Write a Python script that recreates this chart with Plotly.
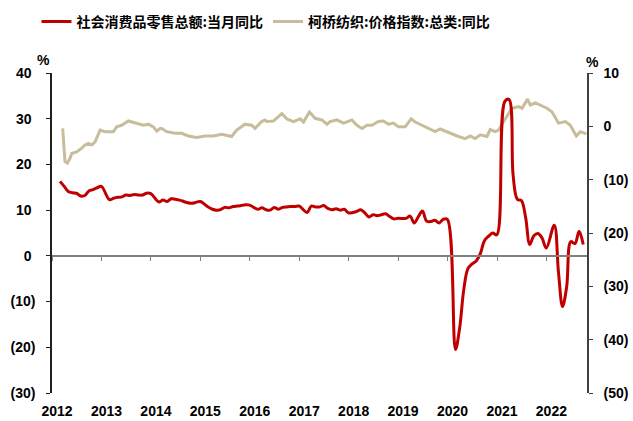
import plotly.graph_objects as go
import pandas as pd

# ---------------- data ----------------
# 社会消费品零售总额:当月同比 (monthly, Jan-Feb combined, %)
retail_2012 = [16.3, 15.2, 14.1, 13.8, 13.7, 13.1, 13.2, 14.2, 14.5, 14.9, 15.2]
retail_2013 = [12.3, 12.6, 12.8, 12.9, 13.3, 13.2, 13.4, 13.3, 13.3, 13.7, 13.6]
retail_2014 = [11.8, 12.2, 11.9, 12.5, 12.4, 12.2, 11.9, 11.6, 11.5, 11.7, 11.9]
retail_2015 = [10.7, 10.2, 10.0, 10.1, 10.6, 10.5, 10.8, 10.9, 11.0, 11.2, 11.1]
retail_2016 = [10.2, 10.5, 10.1, 10.0, 10.6, 10.2, 10.6, 10.7, 10.8, 10.8, 10.9]
retail_2017 = [9.5, 10.9, 10.7, 10.7, 11.0, 10.4, 10.1, 10.3, 10.0, 10.2, 9.4]
retail_2018 = [9.7, 10.1, 9.4, 8.5, 9.0, 8.8, 9.0, 9.2, 8.6, 8.1, 8.2]
retail_2019 = [8.2, 8.7, 7.2, 8.6, 9.8, 7.6, 7.5, 7.8, 7.2, 8.0, 8.0]
retail_2020 = [-20.5, -15.8, -7.5, -2.8, -1.8, -1.1, 0.5, 3.3, 4.3, 5.0, 4.6]
retail_2021 = [33.8, 34.2, 17.7, 12.4, 12.1, 8.5, 2.5, 4.4, 4.9, 3.9, 1.7]
retail_2022 = [6.7, -3.5, -11.1, -6.7, 3.1, 2.7, 5.4, 2.5]

retail_yoy = (retail_2012 + retail_2013 + retail_2014 + retail_2015 + retail_2016 +
              retail_2017 + retail_2018 + retail_2019 + retail_2020 + retail_2021 +
              retail_2022)
retail_dates = []
for yr in range(2012, 2023):
    for mo in range(2, 13):
        retail_dates.append(pd.Timestamp(yr, mo, 1) + pd.offsets.MonthEnd(0))
retail_dates = retail_dates[:len(retail_yoy)]

# 柯桥纺织:价格指数:总类:同比 (%)
keqiao_dates = [
    "2012-03-20", "2012-04-06", "2012-04-23", "2012-05-13", "2012-05-26", "2012-07-01",
    "2012-08-08", "2012-09-01", "2012-09-26", "2012-10-21", "2012-11-14", "2012-12-08",
    "2012-12-21", "2013-01-27", "2013-03-29", "2013-04-23", "2013-05-30", "2013-07-18",
    "2013-09-18", "2013-11-06", "2013-12-13", "2014-01-19", "2014-02-13", "2014-03-09",
    "2014-03-22", "2014-04-28", "2014-06-28", "2014-08-16", "2014-10-04", "2014-12-05",
    "2015-02-05", "2015-04-07", "2015-06-08", "2015-08-20", "2015-09-27", "2015-11-27",
    "2016-01-16", "2016-02-09", "2016-03-29", "2016-04-23", "2016-05-05", "2016-06-24",
    "2016-08-25", "2016-10-01", "2016-11-19", "2017-01-08", "2017-02-01", "2017-03-17",
    "2017-04-28", "2017-06-17", "2017-07-24", "2017-08-17", "2017-10-06", "2017-11-24",
    "2018-01-25", "2018-03-03", "2018-04-09", "2018-05-16", "2018-06-22", "2018-08-09",
    "2018-09-15", "2018-10-22", "2018-11-28", "2019-01-04", "2019-02-23", "2019-04-08",
    "2019-05-08", "2019-06-26", "2019-08-14", "2019-10-02", "2019-11-08", "2019-12-15",
    "2020-02-03", "2020-03-22", "2020-05-11", "2020-06-17", "2020-07-24", "2020-08-30",
    "2020-10-19", "2020-11-12", "2020-12-19", "2021-01-13", "2021-02-19", "2021-03-28",
    "2021-04-22", "2021-06-10", "2021-07-05", "2021-08-15", "2021-09-04", "2021-10-11",
    "2021-11-17", "2022-01-06", "2022-02-12", "2022-04-01", "2022-05-21", "2022-06-27",
    "2022-08-10", "2022-09-09", "2022-10-23",
]
keqiao_yoy = [
    -0.4, -6.6, -6.9, -6.0, -5.1, -4.8,
    -4.1, -3.5, -3.2, -3.5, -2.9, -1.6,
    -0.7, -1.0, -1.0, -0.1, 0.2, 1.0,
    0.6, 0.2, 0.4, -0.1, -0.9, -0.4,
    -0.4, -1.0, -1.3, -1.3, -1.8, -2.1,
    -1.8, -1.8, -1.5, -1.9, -0.7, 0.4,
    0.2, -0.4, 0.9, 1.2, 0.9, 1.0,
    2.4, 1.4, 0.9, 1.4, 0.8, 2.7,
    1.5, 1.2, 0.4, 0.9, 1.2, 0.6,
    1.2, 0.2, -0.4, 0.2, 0.2, 0.9,
    1.0, 0.4, 0.6, -0.1, -0.1, 1.4,
    0.8, 0.2, -0.4, -1.0, -0.5, -0.9,
    -1.5, -1.9, -2.3, -1.8, -2.3, -1.6,
    -1.9, -0.6, -1.0, -0.7, 0.9, 2.4,
    3.4, 3.7, 3.4, 5.1, 4.0, 4.4,
    4.0, 3.4, 2.7, 0.6, 0.9, 0.2,
    -1.8, -1.0, -1.4,
]

year_ticks = [f"{y}-01-01" for y in range(2012, 2023)]
year_labels = [str(y) for y in range(2012, 2023)]

left_vals = [-30, -20, -10, 0, 10, 20, 30, 40]
left_text = ["(30)", "(20)", "(10)", "0\u00a0", "10\u00a0", "20\u00a0", "30\u00a0", "40\u00a0"]
right_vals = [-50, -40, -30, -20, -10, 0, 10]
right_text = ["(50)", "(40)", "(30)", "(20)", "(10)", "0", "10"]

RED = "#C00000"
BEIGE = "#C8BD9A"
TICKFONT = dict(family="Liberation Sans, Arial", size=14, color="black", weight="bold")
X_RANGE = ["2012-01-01", "2022-10-28"]

# ---------------- figure ----------------
fig = go.Figure()
fig.add_trace(go.Scatter(
    x=retail_dates, y=retail_yoy, name="社会消费品零售总额:当月同比", mode="lines",
    line=dict(color=RED, width=3, shape="spline"), yaxis="y2", hoverinfo="skip"))
fig.add_trace(go.Scatter(
    x=keqiao_dates, y=keqiao_yoy, name="柯桥纺织:价格指数:总类:同比", mode="lines",
    line=dict(color=BEIGE, width=3), yaxis="y", hoverinfo="skip"))
# carrier for the zero-line axis
fig.add_trace(go.Scatter(
    x=retail_dates, y=retail_yoy, xaxis="x2", yaxis="y2", mode="lines",
    line=dict(width=0), opacity=0, showlegend=False, hoverinfo="skip"))

fig.update_layout(
    width=633, height=421,
    margin=dict(l=52, r=46, t=73, b=28, autoexpand=False),
    paper_bgcolor="white", plot_bgcolor="white",
    font=dict(family="Liberation Sans, Arial", size=14, color="black"),
    showlegend=True,
    legend=dict(
        orientation="h", xref="paper", yref="paper",
        x=-0.029, y=1.16, xanchor="left", yanchor="middle",
        font=dict(family="Noto Sans CJK SC", size=14, color="black", weight="bold"),
        bgcolor="rgba(0,0,0,0)", itemwidth=30, tracegroupgap=0,
    ),
    xaxis=dict(
        type="date", range=X_RANGE, tickmode="array", tickvals=year_ticks, ticktext=year_labels,
        showline=False, showgrid=False, zeroline=False, ticks="", automargin=False,
        tickfont=TICKFONT, ticklabelshift=5, ticklabelstandoff=8,
    ),
    xaxis2=dict(
        type="date", range=X_RANGE, overlaying="x", anchor="free", position=3 / 7,
        tickmode="array", tickvals=year_ticks, showticklabels=False,
        showline=True, linecolor="#808080", linewidth=1.5,
        ticks="outside", ticklen=4, tickcolor="#808080", tickwidth=1,
        showgrid=False, zeroline=False,
    ),
    yaxis=dict(
        side="right", range=[-50, 10], tickmode="array", tickvals=right_vals, ticktext=right_text,
        showline=True, linecolor="#404040", linewidth=1.5, ticks="outside", ticklen=4,
        tickcolor="#404040", showgrid=False, zeroline=False, tickfont=TICKFONT,
        ticklabelstandoff=8, anchor="x", automargin=False,
    ),
    yaxis2=dict(
        side="left", overlaying="y", range=[-30, 40], tickmode="array", tickvals=left_vals,
        ticktext=left_text, showline=True, linecolor="#202020", linewidth=1.5, ticks="outside",
        ticklen=4, tickcolor="#202020", showgrid=False, zeroline=False, tickfont=TICKFONT,
        ticklabelstandoff=8, anchor="x", automargin=False,
    ),
    annotations=[
        dict(text="%", xref="paper", yref="paper", x=-0.015, y=1.04, showarrow=False,
             xanchor="center", yanchor="middle",
             font=dict(family="Liberation Sans, Arial", size=14, color="black", weight="bold")),
        dict(text="%", xref="paper", yref="paper", x=1.011, y=1.034, showarrow=False,
             xanchor="center", yanchor="middle",
             font=dict(family="Liberation Sans, Arial", size=14, color="black", weight="bold")),
    ],
)

fig.write_html("out.html", config={"displayModeBar": False},
               post_script="document.body.style.margin='0';")
